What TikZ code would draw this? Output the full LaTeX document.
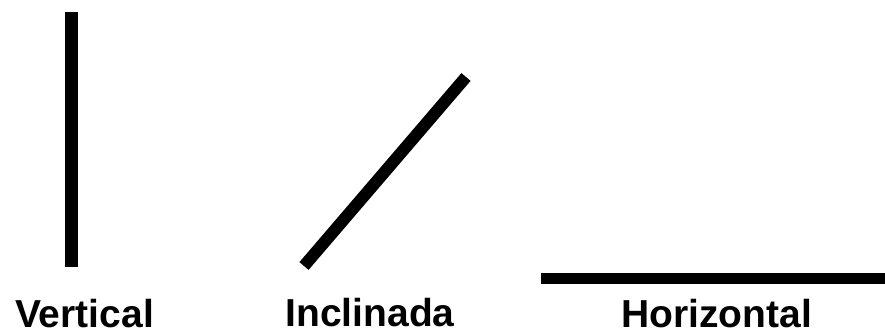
\documentclass[tikz,border=0pt]{standalone}
\usepackage{fontspec}
\setmainfont{Liberation Sans}
\usetikzlibrary{positioning}

\begin{document}
\begin{tikzpicture}[
    x=1pt, y=-1pt,
    bar/.style={line width=12pt, black, line cap=butt},
    lbl/.style={anchor=base, inner sep=0pt, text depth=0pt, font=\fontsize{39}{40}\selectfont\bfseries},
]
\useasboundingbox (0,0) rectangle (885,336);
% lines
\coordinate (vtop) at (71.5,12);
\coordinate (vbot) at (71.5,267);
\coordinate (itop) at (466,77);
\coordinate (ibot) at (304,266);
\coordinate (hleft) at (541,278.5);
\coordinate (hright) at (885,278.5);
\draw[bar, line width=13pt] (vtop) -- (vbot);
\draw[bar] (ibot) -- (itop);
\draw[bar, line width=11pt] (hleft) -- (hright);
% labels
\node[lbl] (vlabel) at (84.5,327.5) {Vertical};
\node[lbl] (ilabel) at (370,326) {Inclinada};
\node[lbl] (hlabel) at (716.5,327.5) {Horizontal};
\end{tikzpicture}
\end{document}
